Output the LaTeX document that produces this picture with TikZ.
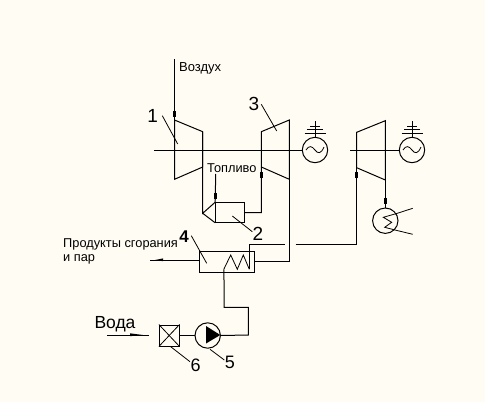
\documentclass[tikz,border=0pt]{standalone}
\usepackage{fontspec}
\setmainfont{Liberation Sans}
\begin{document}
\begin{tikzpicture}[x=1pt,y=-1pt,line width=1pt,
  circ/.style={draw,circle,inner sep=0pt,minimum size=25.4pt,fill=none},
  pipemark/.style={fill=black,draw=none,inner sep=0pt,minimum width=2.6pt,minimum height=5.5pt},
  lab/.style={inner sep=0pt,font=\fontsize{13}{13}\selectfont,anchor=west},
  num/.style={inner sep=0pt,font=\fontsize{19}{19}\selectfont},
  lead/.style={line width=0.8pt},
  thin line/.style={line width=0.8pt}]
\fill[color={rgb,255:red,255;green,253;blue,243}] (0,0) rectangle (485,402);
\useasboundingbox (0,0) rectangle (485,402);
% coordinates
\coordinate (airtop) at (174.5,59);
\coordinate (c1) at (174.5,120); \coordinate (c2) at (202.7,131.7);
\coordinate (c3) at (202.7,167); \coordinate (c4) at (174.5,179.3);
\coordinate (t1) at (261.3,131.7); \coordinate (t2) at (289.3,120);
\coordinate (t3) at (289.3,179.3); \coordinate (t4) at (261.3,167);
\coordinate (u1) at (356.7,132.3); \coordinate (u2) at (385.3,120.7);
\coordinate (u3) at (385.3,180); \coordinate (u4) at (356.7,167.7);
\coordinate (shaftA) at (154,150); \coordinate (shaftB) at (350,150);
\coordinate (tip) at (202.7,213.3);
\coordinate (fueltop) at (215.7,174);
\coordinate (steamA) at (285,244.3); \coordinate (steamB) at (295.5,244.3);
\coordinate (prod) at (150,260);
\coordinate (water) at (107.3,335);
% nodes
\node[circ] (g1) at (315,150) {};
\node[circ] (g2) at (412,150) {};
\node[circ] (cond) at (385.3,220.7) {};
\node[circ] (pump) at (207.7,335.5) {};
\node[draw,inner sep=0pt,minimum width=29pt,minimum height=19.6pt] (comb) at (230.2,212.5) {};
\node[draw,inner sep=0pt,minimum width=55pt,minimum height=20.6pt] (hx) at (226.8,262) {};
\node[draw,inner sep=0pt,minimum width=19.7pt,minimum height=21pt] (filt) at (169.2,335.5) {};
% machines
\draw (c1) -- (c2) -- (c3) -- (c4) -- cycle;
\draw (t1) -- (t2) -- (t3) -- (t4) -- cycle;
\draw (u1) -- (u2) -- (u3) -- (u4) -- cycle;
% shafts
\draw (shaftA) -- (g1.west);
\draw (shaftB) -- (g2.west);
% generators
\foreach \g in {g1,g2}{
  \draw[thin line] ([xshift=-9pt]\g.center) .. controls ([xshift=-6pt,yshift=5pt]\g.center) and ([xshift=-3pt,yshift=4pt]\g.center) .. (\g.center)
     .. controls ([xshift=3pt,yshift=-4pt]\g.center) and ([xshift=6pt,yshift=-4pt]\g.center) .. ([xshift=9pt,yshift=3pt]\g.center);
  \draw[thin line] (\g.north) -- ([yshift=16pt]\g.north);
  \draw[thin line] ([xshift=-5pt,yshift=10.5pt]\g.north) -- ([xshift=5pt,yshift=10.5pt]\g.north);
  \draw[thin line] ([xshift=-8pt,yshift=7pt]\g.north) -- ([xshift=8pt,yshift=7pt]\g.north);
  \draw[thin line] ([xshift=-10.5pt,yshift=3.5pt]\g.north) -- ([xshift=10.5pt,yshift=3.5pt]\g.north);
}
% pipes
\draw (airtop) -- (c1);
\node[pipemark] (m1) at (174.5,114) {};
\draw (c2) -- (c3) -- (tip) -- (comb.north west);
\draw (tip) -- (comb.south west);
\draw (fueltop) -- (comb.north west);
\node[pipemark] (m2) at (215.7,196) {};
\draw (comb.east) -- (261.3,212.7) -- (t4);
\node[pipemark] (m3) at (261.3,175) {};
\draw (t3) -- (289.3,261.3) -- (hx.east |- 0,261.3);
\draw (hx.west |- 0,260) -- (prod);
\fill (155,260) -- (163,258.4) -- (163,261.2) -- cycle;
\draw (249.3,269.3) -- (249.3,244.3) -- (steamA);
\draw (steamB) -- (356.7,244.3) -- (u4);
\node[pipemark] (m4) at (356.7,175) {};
\draw (u3) -- (cond.north);
\node[pipemark] (m5) at (385.3,201) {};
% condenser coil
\draw[thin line] (412.7,208.3) -- (397.3,213.3) -- (383.3,217.3) -- (391.7,222.3) -- (384.7,227.3) -- (395,230) -- (412.7,234.3);
% hx coil
\draw[thin line] (223.8,269.3) -- (230.7,255) -- (237.3,269.3) -- (243.3,255) -- (249.3,269.3);
% feed water
\draw (pump.east) -- (248.3,335) -- (248.3,307.3) -- (224,307.3) -- (224,280) -- (223.8,269.3);
\draw (filt.east) -- (pump.west);
\draw (water) -- (149,335);
\fill (143,335) -- (130,333.3) -- (130,336.2) -- cycle;
\fill (206,326) -- (206,343.5) -- (220.3,335) -- cycle;
\draw[thin line] (filt.north west) -- (filt.south east);
\draw[thin line] (filt.north east) -- (filt.south west);
% labels
\node[lab] (air) at (178.7,68.5) {Воздух};
\node[lab,font=\fontsize{12.8}{13}\selectfont] (fuel) at (206.7,168.5) {Топливо};
\node[lab,font=\fontsize{12.8}{13}\selectfont] (pr1) at (62.7,244) {Продукты сгорания};
\node[lab,font=\fontsize{12.8}{13}\selectfont] (pr2) at (62.7,259) {и пар};
\node[lab,font=\fontsize{17.5}{18}\selectfont] (wat) at (94,324) {Вода};
\node[num] (n1) at (152.7,115.7) {1};
\node[num] (n3) at (254,104) {3};
\node[num] (n2) at (258,233.5) {2};
\node[num,font=\bfseries\fontsize{17}{17}\selectfont] (n4) at (184,236.7) {4};
\node[num,font=\fontsize{18}{18}\selectfont] (n5) at (230,362.7) {5};
\node[num,font=\fontsize{18}{18}\selectfont] (n6) at (195.7,365) {6};
% leaders
\draw[lead] (162.3,115.7) -- (177.7,144);
\draw[lead] (261.3,104.3) -- (276.7,131);
\draw[lead] (232.3,216) -- (252.3,231.7);
\draw[lead] (191.3,235.7) -- (206.7,263.3);
\draw[lead] (210,349.3) -- (224.3,360);
\draw[lead] (170.7,346.7) -- (190,361.7);
\end{tikzpicture}
\end{document}
